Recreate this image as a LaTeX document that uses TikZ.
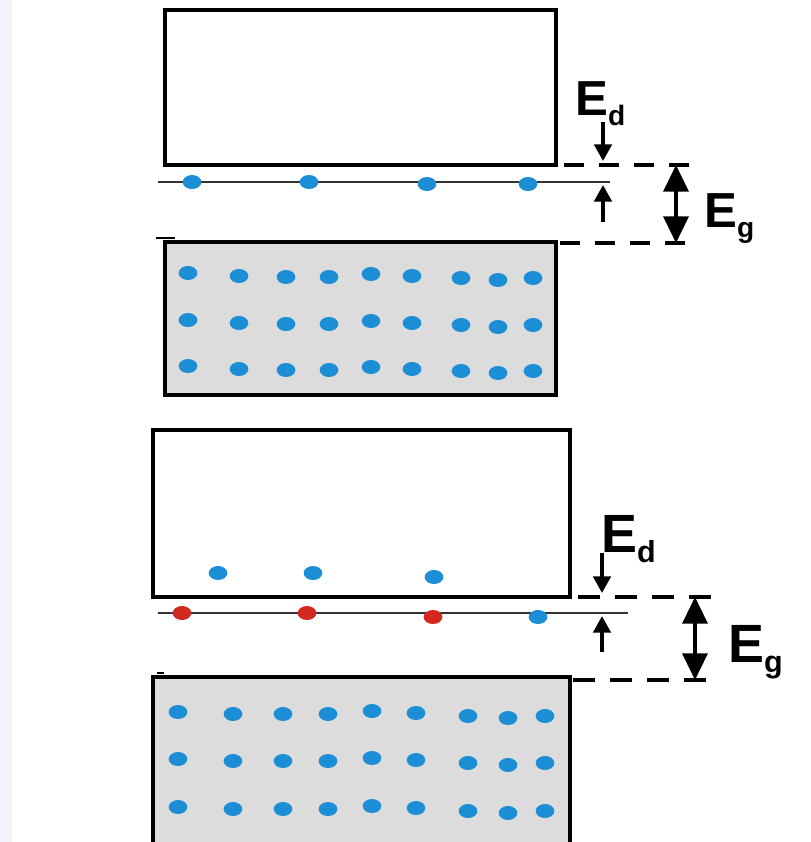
\documentclass[tikz,border=0pt]{standalone}
\usepackage{fontspec}
\setmainfont{Liberation Sans}
\usepackage{xcolor}
\usetikzlibrary{arrows.meta}
\definecolor{elecblue}{HTML}{1C8ED6}
\definecolor{ionred}{HTML}{D3281F}
\definecolor{valgray}{HTML}{DCDCDC}
\definecolor{edgetint}{HTML}{F2F5FB}
\newcommand{\elevel}[2]{E\raisebox{-3mm}{\fontsize{#1}{#1}\selectfont #2}}

\begin{document}
\begin{tikzpicture}[x=0.3mm,y=-0.3mm,>={Triangle[width=5.2mm,length=5mm]}]
\tikzstyle{band}=[draw=black,line width=2.7pt]
\tikzstyle{level}=[draw=black!80,line width=1.6pt]
\tikzstyle{gap}=[line width=3pt,dash pattern=on 6mm off 4.5mm]
\tikzstyle{gapwide}=[line width=3pt,dash pattern=on 6.6mm off 4.5mm]
\tikzstyle{edarrow}=[->,line width=3.3pt]
\tikzstyle{egarrow}=[{Triangle[width=7.5mm,length=8mm]}-{Triangle[width=7.5mm,length=8mm]},line width=3pt]
\tikzstyle{elabel}=[anchor=base west,inner sep=0pt]

\useasboundingbox (0,0) rectangle (811,842);
\fill[edgetint] (0,0) rectangle (12,842);

% upper diagram: electrons sitting on the donor level
\draw[band] (165,10) rectangle (556,165);
\draw[band,fill=valgray] (165,242) rectangle (556,395);
\draw[line width=2pt] (156,238) -- (175,238);
\draw[level] (158,182) -- (610,182);
\foreach \x/\dy in {192/0,309/0,427/2,528/2}
  \fill[elecblue] (\x,182+\dy) ellipse (2.8mm and 2.1mm);
\foreach \row in {273,320,366}
  \foreach \x/\dy in {188/0,239/3,286/4,329/4,371/1,412/3,461/5,498/7,533/5}
    \fill[elecblue] (\x,\row+\dy) ellipse (2.8mm and 2.1mm);

\draw[gap] (564,165) -- (692,165);
\draw[gap] (560,243) -- (690,243);
\coordinate (ed1top) at (603,122);
\coordinate (ed1cb) at (603,161);
\coordinate (ed1low) at (603,222);
\coordinate (ed1lev) at (603,185);
\coordinate (eg1cb) at (676,165);
\coordinate (eg1vb) at (676,243);
\draw[edarrow] (ed1top) -- (ed1cb);
\draw[edarrow] (ed1low) -- (ed1lev);
\draw[egarrow] (eg1cb) -- (eg1vb);
\node[elabel,font=\bfseries\fontsize{42}{42}\selectfont] (ed1) at (575,115) {\elevel{24}{d}};
\node[elabel,font=\bfseries\fontsize{42}{42}\selectfont] (eg1) at (704,227) {\elevel{24}{g}};

% lower diagram: donors ionised, electrons in the conduction band
\draw[band] (153,430) rectangle (570,597);
\fill[valgray] (153,677) rectangle (570,842);
\draw[band] (153,842) -- (153,677) -- (570,677) -- (570,842);
\draw[line width=2pt] (157,673) -- (164,673);
\draw[level] (158,613) -- (628,613);
\foreach \x/\y in {218/573,313/573,434/577,538/617}
  \fill[elecblue] (\x,\y) ellipse (2.8mm and 2.1mm);
\foreach \x/\y in {182/613,307/613,433/617}
  \fill[ionred] (\x,\y) ellipse (2.8mm and 2.1mm);
\foreach \row in {712,759,807}
  \foreach \x/\dy in {178/0,233/2,283/2,328/2,372/-1,416/1,468/4,508/6,545/4}
    \fill[elecblue] (\x,\row+\dy) ellipse (2.8mm and 2.1mm);

\draw[gapwide] (578,597) -- (712,597);
\draw[gapwide] (573,680) -- (707,680);
\coordinate (ed2top) at (602,553);
\coordinate (ed2cb) at (602,593);
\coordinate (ed2low) at (602,652);
\coordinate (ed2lev) at (602,616);
\coordinate (eg2cb) at (695,597);
\coordinate (eg2vb) at (695,680);
\draw[edarrow] (ed2top) -- (ed2cb);
\draw[edarrow] (ed2low) -- (ed2lev);
\draw[egarrow] (eg2cb) -- (eg2vb);
\node[elabel,font=\bfseries\fontsize{46}{46}\selectfont] (ed2) at (601,552) {\elevel{26}{d}};
\node[elabel,font=\bfseries\fontsize{46}{46}\selectfont] (eg2) at (728,662) {\elevel{26}{g}};
\end{tikzpicture}
\end{document}
